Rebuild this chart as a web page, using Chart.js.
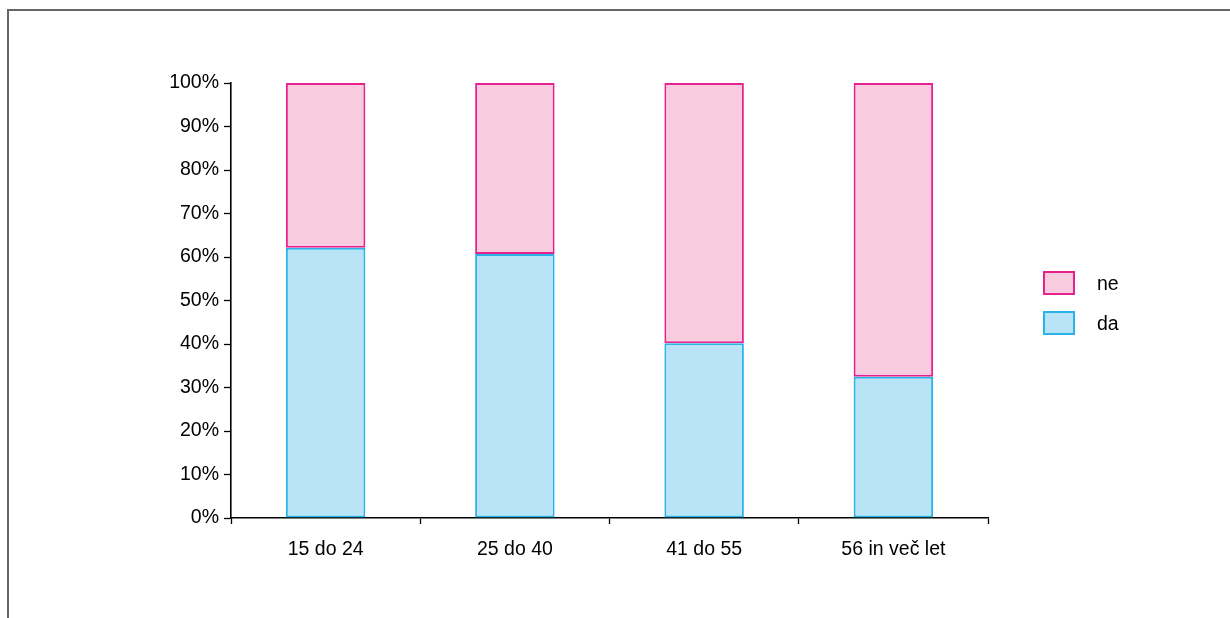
<!DOCTYPE html>
<html>
<head>
<meta charset="utf-8">
<script src="https://cdn.jsdelivr.net/npm/chart.js@4"></script>
<style>
  html, body { margin: 0; padding: 0; background: #fff; overflow: hidden; }
  body { width: 1230px; height: 618px; position: relative; font-family: "Liberation Sans", Arial, sans-serif; }
  #frame { position: absolute; left: 7px; top: 9px; width: 1300px; height: 700px; border: 2px solid #666; box-sizing: border-box; }
  #wrap { position: absolute; left: 0; top: 0; width: 1230px; height: 618px; }
  #legend { position: absolute; left: 1043px; top: 271px; font-size: 19.5px; color: #000; }
  .item { display: flex; align-items: center; height: 24px; margin-bottom: 16px; }
  .box { width: 32px; height: 24px; box-sizing: border-box; border: 2px solid; margin-right: 22px; }
</style>
</head>
<body>
<div id="frame"></div>
<div id="wrap"><canvas id="chart" width="1230" height="618"></canvas></div>
<div id="legend"></div>
<script>
// data
const categories = ['15 do 24', '25 do 40', '41 do 55', '56 in več let'];
const daValues = [62.1, 60.7, 40.2, 32.5];
const neValues = [37.9, 39.3, 59.8, 67.5];
const seriesNames = ['da', 'ne'];
const fills = ['#b9e4f8', '#f8cbdf'];
const borders = ['#29b3e8', '#e6228c'];

window.addEventListener('load', () => {
  const canvas = document.getElementById('chart');
  const font = { family: '"Liberation Sans", Arial, sans-serif', size: 19.5 };

  const datasets = [daValues, neValues].map((vals, i) => ({
    label: seriesNames[i],
    data: vals,
    backgroundColor: fills[i],
    borderColor: borders[i],
    borderWidth: 2,
    borderSkipped: false,
    barPercentage: 0.42,
    categoryPercentage: 1
  }));

  new Chart(canvas, {
    type: 'bar',
    data: { labels: categories, datasets: datasets },
    options: {
      responsive: false,
      animation: false,
      devicePixelRatio: 1,
      layout: { padding: { left: 0, right: 242, top: 83, bottom: 0 } },
      plugins: { legend: { display: false }, tooltip: { enabled: false } },
      scales: {
        x: {
          stacked: true,
          offset: true,
          grid: { offset: true, drawOnChartArea: false, color: '#000', tickLength: 6, tickWidth: 1.3 },
          border: { color: '#000', width: 1.6 },
          ticks: { font: font, color: '#000', padding: 14, maxRotation: 0 },
          afterFit: (s) => { s.height = 100; }
        },
        y: {
          stacked: true,
          min: 0,
          max: 100,
          grid: { drawOnChartArea: false, color: '#000', tickLength: 7, tickWidth: 1.3 },
          border: { color: '#000', width: 1.6 },
          ticks: { stepSize: 10, font: font, color: '#000', padding: 5, callback: v => v + '%' },
          afterFit: (s) => { s.width = 231; }
        }
      }
    }
  });

  // legend, in reverse order like the original (ne above da)
  const legend = document.getElementById('legend');
  for (let i = seriesNames.length - 1; i >= 0; i--) {
    const item = document.createElement('div');
    item.className = 'item';
    const box = document.createElement('div');
    box.className = 'box';
    box.style.background = fills[i];
    box.style.borderColor = borders[i];
    const txt = document.createElement('span');
    txt.textContent = seriesNames[i];
    item.appendChild(box);
    item.appendChild(txt);
    legend.appendChild(item);
  }
});
</script>
</body>
</html>
